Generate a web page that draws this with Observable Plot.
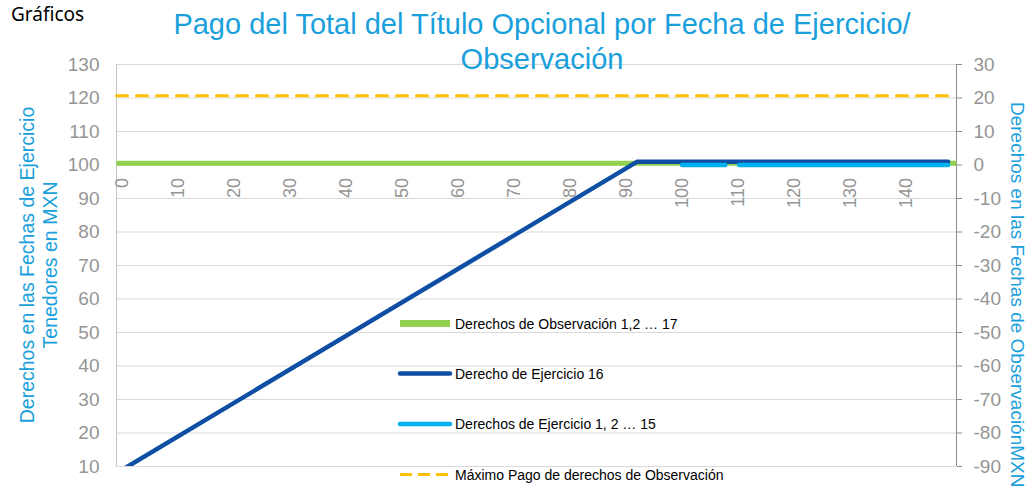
<!DOCTYPE html>
<html><head><meta charset="utf-8">
<script src="https://cdn.jsdelivr.net/npm/d3@7"></script>
<script src="https://cdn.jsdelivr.net/npm/@observablehq/plot@0.6"></script>
<style>
html,body{margin:0;padding:0;background:#fff;}
#chart{position:relative;width:1030px;height:493px;overflow:hidden;}
</style></head><body><div id="chart"></div>
<script>
// ---- data ----
const xTicks = [0,10,20,30,40,50,60,70,80,90,100,110,120,130,140];
const yTicks = [10,20,30,40,50,60,70,80,90,100,110,120,130];
const rightOffset = 100;          // right axis = left axis - 100
const xAxisAt = 100;              // x tick labels sit on left value 100 (right value 0)

const obsX = [-1, 149];           // Derechos de Observación 1,2 … 17
const obsY = [100.5, 100.5];
const ex16X = [0, 92, 147.5];     // Derecho de Ejercicio 16
const ex16Y = [9, 101, 101];
const ex115X = [100, 107.7, 109, 110.2, 147.5];   // Derechos de Ejercicio 1, 2 … 15
const ex115Y = [100, 100, NaN, 100, 100];
const maxX = [-1, 149];           // Máximo Pago de derechos de Observación
const maxY = [120.7, 120.7];

const seriesNames = [
  "Derechos de Observación 1,2 … 17",
  "Derecho de Ejercicio 16",
  "Derechos de Ejercicio 1, 2 … 15",
  "Máximo Pago de derechos de Observación"
];
const seriesColors = ["#92d050", "#0f4fa3", "#00b0f0", "#ffc000"];

const titleLines = ["Pago del Total del Título Opcional por Fecha de Ejercicio/", "Observación"];
const leftTitle = ["Derechos en las Fechas de Ejercicio", "Tenedores en MXN"];
const rightTitle = "Derechos en las Fechas de ObservaciónMXN";
const corner = "Gráficos";

const toPts = (xs, ys) => xs.map((x, i) => ({x, y: ys[i]}));
const obs = toPts(obsX, obsY), ex16 = toPts(ex16X, ex16Y), ex115 = toPts(ex115X, ex115Y), mx = toPts(maxX, maxY);

const gray = "#959595";
const font = "'Liberation Sans', Arial, sans-serif";

const svg = Plot.plot({
  width: 1030, height: 493,
  marginLeft: 116, marginRight: 74, marginTop: 64, marginBottom: 27,
  x: {domain: [-1, 149], axis: null},
  y: {domain: [10, 130], axis: null},
  style: {fontFamily: font, background: "#fff", overflow: "visible"},
  marks: [
    Plot.gridY(yTicks, {stroke: "#d9d9d9", strokeOpacity: 1}),
    Plot.ruleX([-1], {stroke: "#c4c4c4"}),
    Plot.ruleX([149], {stroke: "#8c8c8c"}),
    Plot.axisY(yTicks, {anchor: "left", tickSize: 0, tickPadding: 17, fontSize: 19, color: gray, label: null}),
    Plot.axisY(yTicks, {anchor: "right", tickSize: 5, tickPadding: 12, fontSize: 19, color: gray, stroke: "#8c8c8c", label: null,
      tickFormat: d => String(d - rightOffset)}),
    Plot.text(xTicks, {x: d => d, y: d => xAxisAt, text: d => String(d), rotate: -90, textAnchor: "end",
      dy: 13, fill: gray, fontSize: 18}),
    Plot.line(obs, {x: "x", y: "y", stroke: seriesColors[0], strokeWidth: 5, strokeLinecap: "butt"}),
    Plot.line(ex16, {x: "x", y: "y", stroke: seriesColors[1], strokeWidth: 4.5, strokeLinecap: "round", strokeLinejoin: "round", clip: true}),
    Plot.line(ex115, {x: "x", y: "y", stroke: seriesColors[2], strokeWidth: 4.5, strokeLinecap: "round"}),
    Plot.line(mx, {x: "x", y: "y", stroke: seriesColors[3], strokeWidth: 3, strokeDasharray: "11,9"})
  ]
});

const s = d3.select(svg);
// corner label
s.append("text").attr("x", 11).attr("y", 21).attr("text-anchor", "start").attr("font-family", "'Noto Sans', sans-serif")
  .attr("font-size", 19).attr("fill", "#000").text(corner);
// title
titleLines.forEach((t, i) => {
  s.append("text").attr("x", 542).attr("y", 34 + i * 35).attr("text-anchor", "middle")
    .attr("font-family", font).attr("font-size", 29).attr("fill", "#19a0dc").text(t);
});
// left axis title
leftTitle.forEach((t, i) => {
  s.append("text").attr("transform", `translate(${27 + i * 23},265) rotate(-90)`)
    .attr("text-anchor", "middle").attr("dominant-baseline", "central")
    .attr("font-family", font).attr("font-size", 19.5).attr("fill", "#19a0dc").text(t);
});
// right axis title
s.append("text").attr("transform", `translate(1017,102) rotate(90)`)
  .attr("text-anchor", "start").attr("dominant-baseline", "central")
  .attr("font-family", font).attr("font-size", 19).attr("fill", "#19a0dc").text(rightTitle);

// legend
const lg = s.append("g").attr("font-family", font).attr("font-size", 14).attr("text-anchor", "start");
const ly = [323.5, 373.5, 424, 474.5];
seriesNames.forEach((name, i) => {
  const y = ly[i];
  if (i === 0) {
    lg.append("rect").attr("x", 400).attr("y", y - 3.5).attr("width", 50).attr("height", 7).attr("fill", seriesColors[0]);
  } else {
    const l = lg.append("line").attr("x1", 400).attr("x2", i === 3 ? 452 : 450)
      .attr("y1", y).attr("y2", y).attr("stroke", seriesColors[i]);
    if (i === 3) l.attr("stroke-width", 3).attr("stroke-dasharray", "12,6");
    else l.attr("stroke-width", 4.5).attr("stroke-linecap", "round");
  }
  lg.append("text").attr("x", 455).attr("y", y).attr("dominant-baseline", "central").attr("fill", "#000").text(name);
});

document.getElementById("chart").appendChild(svg);
</script></body></html>
